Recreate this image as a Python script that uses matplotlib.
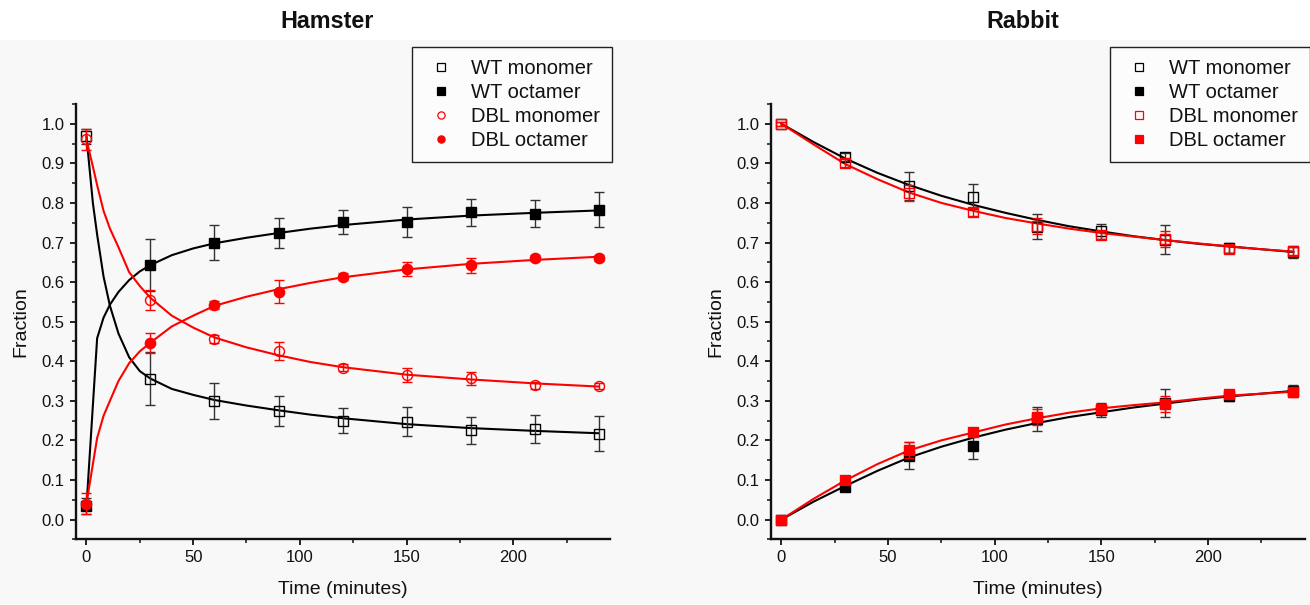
import matplotlib
matplotlib.use('Agg')
import matplotlib.pyplot as plt
from matplotlib.lines import Line2D
from matplotlib.patches import Rectangle
from matplotlib.ticker import MultipleLocator, FormatStrFormatter

plt.rcParams['font.family'] = ['Liberation Sans', 'DejaVu Sans']

# ---------------- data ----------------
time = [0, 30, 60, 90, 120, 150, 180, 210, 240]

# Hamster measured points
ham_wt_mono = [0.968, 0.356, 0.300, 0.275, 0.250, 0.247, 0.225, 0.228, 0.217]
ham_wt_mono_err = [0.020, 0.067, 0.045, 0.038, 0.032, 0.037, 0.033, 0.035, 0.044]
ham_wt_oct = [0.035, 0.643, 0.700, 0.725, 0.752, 0.752, 0.776, 0.773, 0.783]
ham_wt_oct_err = [0.020, 0.066, 0.045, 0.038, 0.031, 0.037, 0.034, 0.035, 0.044]
ham_dbl_mono = [0.961, 0.555, 0.456, 0.425, 0.384, 0.365, 0.357, 0.339, 0.338]
ham_dbl_mono_err = [0.026, 0.025, 0.010, 0.023, 0.008, 0.017, 0.017, 0.008, 0.008]
ham_dbl_oct = [0.040, 0.446, 0.541, 0.576, 0.614, 0.633, 0.642, 0.661, 0.661]
ham_dbl_oct_err = [0.026, 0.025, 0.010, 0.029, 0.008, 0.017, 0.019, 0.008, 0.008]

# Hamster fitted curves
ham_fit_t = [0, 3, 5, 8, 11, 15, 20, 25, 30, 40, 50, 60, 75, 90, 105, 120, 150, 180, 210, 240]
ham_fit_wt_mono = [0.968, 0.800, 0.720, 0.614, 0.540, 0.470, 0.410, 0.375, 0.356, 0.330, 0.315, 0.302,
                   0.288, 0.276, 0.265, 0.256, 0.241, 0.231, 0.224, 0.218]
ham_fit_wt_oct = [0.033, 0.288, 0.458, 0.510, 0.543, 0.575, 0.605, 0.627, 0.643, 0.668, 0.685, 0.698,
                  0.712, 0.724, 0.735, 0.744, 0.758, 0.768, 0.775, 0.781]
ham_fit_dbl_mono = [0.960, 0.892, 0.845, 0.780, 0.735, 0.688, 0.625, 0.590, 0.560, 0.515, 0.485, 0.460,
                    0.435, 0.415, 0.398, 0.385, 0.366, 0.354, 0.344, 0.336]
ham_fit_dbl_oct = [0.040, 0.140, 0.206, 0.262, 0.300, 0.350, 0.395, 0.425, 0.447, 0.488, 0.515, 0.540,
                   0.563, 0.582, 0.598, 0.612, 0.632, 0.646, 0.656, 0.664]

# Rabbit measured points
rab_wt_mono = [1.000, 0.916, 0.842, 0.816, 0.740, 0.728, 0.707, 0.686, 0.676]
rab_wt_mono_err = [0.005, 0.010, 0.035, 0.031, 0.032, 0.020, 0.037, 0.012, 0.014]
rab_wt_oct = [0.000, 0.083, 0.161, 0.185, 0.254, 0.277, 0.294, 0.311, 0.326]
rab_wt_oct_err = [0.005, 0.010, 0.034, 0.032, 0.031, 0.018, 0.036, 0.012, 0.015]
rab_dbl_mono = [1.000, 0.900, 0.825, 0.778, 0.742, 0.720, 0.709, 0.684, 0.679]
rab_dbl_mono_err = [0.005, 0.010, 0.020, 0.010, 0.020, 0.010, 0.020, 0.010, 0.010]
rab_dbl_oct = [0.000, 0.100, 0.176, 0.222, 0.259, 0.279, 0.292, 0.318, 0.321]
rab_dbl_oct_err = [0.005, 0.010, 0.020, 0.010, 0.020, 0.010, 0.020, 0.010, 0.012]

# Rabbit fitted curves
rab_fit_t = [0, 15, 30, 45, 60, 75, 90, 105, 120, 135, 150, 165, 180, 195, 210, 225, 240]
rab_fit_wt_mono = [1.000, 0.954, 0.912, 0.876, 0.845, 0.818, 0.795, 0.775, 0.757, 0.741, 0.728,
                   0.716, 0.706, 0.697, 0.690, 0.683, 0.676]
rab_fit_dbl_mono = [1.000, 0.948, 0.898, 0.860, 0.826, 0.800, 0.780, 0.762, 0.748, 0.735, 0.724,
                    0.715, 0.706, 0.698, 0.690, 0.683, 0.677]
rab_fit_wt_oct = [0.000, 0.045, 0.085, 0.123, 0.157, 0.184, 0.207, 0.227, 0.244, 0.259, 0.271,
                  0.283, 0.293, 0.303, 0.311, 0.318, 0.325]
rab_fit_dbl_oct = [0.000, 0.052, 0.099, 0.140, 0.175, 0.200, 0.220, 0.240, 0.256, 0.270, 0.281,
                   0.289, 0.296, 0.305, 0.313, 0.318, 0.323]

legend_labels = ['WT monomer', 'WT octamer', 'DBL monomer', 'DBL octamer']

# ---------------- figure ----------------
W, H = 1310, 605
fig = plt.figure(figsize=(W / 100, H / 100), dpi=100)
fig.patch.set_facecolor('white')
fig.patches.append(Rectangle((0, 0), 1, 1 - 40 / H, transform=fig.transFigure,
                             facecolor='#f8f8f8', edgecolor='none', zorder=-10))

ax_b = 1 - 539.3 / H
ax_h = (539.3 - 104) / H
ax1 = fig.add_axes([75.8 / W, ax_b, 534.5 / W, ax_h])
ax2 = fig.add_axes([770.8 / W, ax_b, 534.2 / W, ax_h])

RED = '#ff0000'
BLK = '#000000'
TXT = '#111111'


def style_axes(ax):
    ax.set_facecolor('none')
    ax.set_xlim(-5, 245.5)
    ax.set_ylim(-0.05, 1.05)
    for s in ['top', 'right']:
        ax.spines[s].set_visible(False)
    for s in ['left', 'bottom']:
        ax.spines[s].set_linewidth(1.7)
        ax.spines[s].set_color(TXT)
    ax.xaxis.set_major_locator(MultipleLocator(50))
    ax.xaxis.set_minor_locator(MultipleLocator(25))
    ax.yaxis.set_major_locator(MultipleLocator(0.1))
    ax.yaxis.set_minor_locator(MultipleLocator(0.05))
    ax.yaxis.set_major_formatter(FormatStrFormatter('%.1f'))
    ax.tick_params(which='major', direction='out', length=4.5, width=1.3,
                   labelsize=12, pad=3.5, colors=TXT)
    ax.tick_params(which='minor', direction='out', length=3, width=1.1, colors=TXT)
    ax.set_xlabel('Time (minutes)', fontsize=14, color=TXT)
    ax.set_ylabel('Fraction', fontsize=14, color=TXT)
    ax.xaxis.set_label_coords(0.5, -0.096)
    ax.yaxis.set_label_coords(-0.086, 0.5)


style_axes(ax1)
style_axes(ax2)

ekw = dict(capsize=3.3, elinewidth=1.0, capthick=1.0, linestyle='none')

# ---- Hamster ----
ax1.plot(ham_fit_t, ham_fit_wt_mono, color=BLK, lw=1.5, zorder=2)
ax1.plot(ham_fit_t, ham_fit_wt_oct, color=BLK, lw=1.5, zorder=2)
ax1.plot(ham_fit_t, ham_fit_dbl_mono, color=RED, lw=1.5, zorder=2)
ax1.plot(ham_fit_t, ham_fit_dbl_oct, color=RED, lw=1.5, zorder=2)

ax1.errorbar(time, ham_wt_mono, yerr=ham_wt_mono_err, marker='s', ms=6.8, mfc='none', mec=BLK,
             mew=1.0, ecolor='#333333', zorder=3, **ekw)
ax1.errorbar(time, ham_wt_oct, yerr=ham_wt_oct_err, marker='s', ms=6.8, mfc=BLK, mec=BLK,
             ecolor='#333333', zorder=3, **ekw)
ax1.errorbar(time, ham_dbl_mono, yerr=ham_dbl_mono_err, marker='o', ms=7.2, mfc='none', mec=RED,
             mew=1.0, ecolor=RED, zorder=4, **ekw)
ax1.errorbar(time, ham_dbl_oct, yerr=ham_dbl_oct_err, marker='o', ms=7.4, mfc=RED, mec=RED,
             ecolor=RED, zorder=4, **ekw)

# ---- Rabbit ----
ax2.plot(rab_fit_t, rab_fit_wt_mono, color=BLK, lw=1.5, zorder=2)
ax2.plot(rab_fit_t, rab_fit_wt_oct, color=BLK, lw=1.5, zorder=2)
ax2.plot(rab_fit_t, rab_fit_dbl_mono, color=RED, lw=1.5, zorder=2)
ax2.plot(rab_fit_t, rab_fit_dbl_oct, color=RED, lw=1.5, zorder=2)

ax2.errorbar(time, rab_wt_mono, yerr=rab_wt_mono_err, marker='s', ms=6.8, mfc='none', mec=BLK,
             mew=1.0, ecolor='#333333', zorder=3, **ekw)
ax2.errorbar(time, rab_wt_oct, yerr=rab_wt_oct_err, marker='s', ms=6.8, mfc=BLK, mec=BLK,
             ecolor='#333333', zorder=3, **ekw)
ax2.errorbar(time, rab_dbl_mono, yerr=rab_dbl_mono_err, marker='s', ms=6.8, mfc='none', mec=RED,
             mew=1.0, ecolor=RED, zorder=4, **ekw)
ax2.errorbar(time, rab_dbl_oct, yerr=rab_dbl_oct_err, marker='s', ms=6.8, mfc=RED, mec=RED,
             ecolor=RED, zorder=4, **ekw)


def make_legend(ax, markers, x_anchor):
    specs = [(markers[0], 'none', BLK), (markers[1], BLK, BLK),
             (markers[2], 'none', RED), (markers[3], RED, RED)]
    handles = [Line2D([], [], linestyle='none', marker=m, ms=5.2, mfc=fc, mec=ec, mew=0.9)
               for m, fc, ec in specs]
    leg = ax.legend(handles, legend_labels, loc='upper right', bbox_to_anchor=(x_anchor, 1.131),
                    borderaxespad=0, frameon=True, fancybox=False, fontsize=14.5,
                    handlelength=1.65, handletextpad=0.67, labelspacing=0.24, borderpad=0.6)
    fr = leg.get_frame()
    fr.set_edgecolor('#222222')
    fr.set_linewidth(1.0)
    fr.set_facecolor('#fcfcfc')
    fr.set_alpha(1)
    for t in leg.get_texts():
        t.set_color(TXT)
    return leg


make_legend(ax1, ['s', 's', 'o', 'o'], 1.003)
make_legend(ax2, ['s', 's', 's', 's'], 1.009)

fig.text(327 / W, 1 - 22 / H, 'Hamster', ha='center', va='center', fontsize=16.8,
         fontweight='bold', color=TXT)
fig.text(1023 / W, 1 - 22 / H, 'Rabbit', ha='center', va='center', fontsize=16.8,
         fontweight='bold', color=TXT)

fig.savefig('out.png', dpi=100, facecolor=fig.get_facecolor())
